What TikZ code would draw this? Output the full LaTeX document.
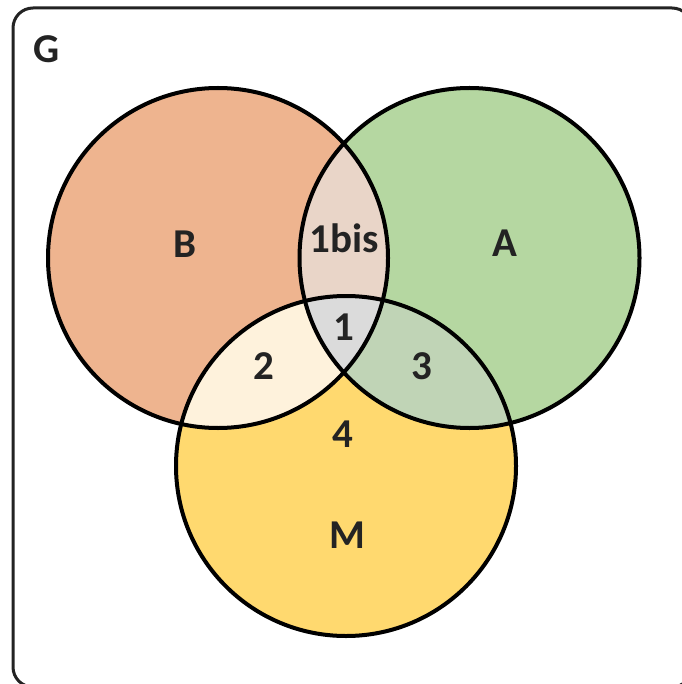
\documentclass[tikz,border=0pt]{standalone}
\usepackage{fontspec}
\setmainfont{Carlito}
\usepackage{xcolor}
\usepackage{tikz}
\usetikzlibrary{positioning}

\definecolor{setB}{HTML}{EEB48F}
\definecolor{setA}{HTML}{B5D7A1}
\definecolor{setM}{HTML}{FFD96F}
\definecolor{zoneBA}{HTML}{E9D5C8}
\definecolor{zoneBM}{HTML}{FEF2DC}
\definecolor{zoneAM}{HTML}{C0D4B6}
\definecolor{zoneAll}{HTML}{DBDBDB}
\definecolor{ink}{HTML}{232323}

\begin{document}
\begin{tikzpicture}[x=1pt, y=-1pt,
        every node/.style={font=\fontsize{41}{48}\selectfont\bfseries, text=ink, inner sep=0pt},
        setline/.style={draw=black, line width=4pt},
        frame/.style={draw=ink, line width=3pt, rounded corners=20pt}]

    \useasboundingbox (0,0) rectangle (681,684);

    % the three sets
    \def\cB{(218,258) circle (170)}
    \def\cA{(469.5,258) circle (170)}
    \def\cM{(346,466) circle (170)}

    \draw[frame] (13,8) rectangle (692,687);

    \fill[setB] \cB;
    \fill[setA] \cA;
    \fill[setM] \cM;

    % intersections
    \begin{scope}
        \clip \cB;
        \fill[zoneBA] \cA;
        \fill[zoneBM] \cM;
    \end{scope}
    \begin{scope}
        \clip \cA;
        \fill[zoneAM] \cM;
    \end{scope}
    \begin{scope}
        \clip \cB;
        \clip \cA;
        \fill[zoneAll] \cM;
    \end{scope}

    \draw[setline] \cB;
    \draw[setline] \cA;
    \draw[setline] \cM;

    % labels
    \node (G) at (47,49) {G};
    \node (B) at (184.5,244) {B};
    \node (A) at (505,243) {A};
    \node (M) at (347,535) {M};
    \node (z1bis) at (344.5,238) {1bis};
    \node (z1) at (344,327) {1};
    \node (z2) at (264,366) {2};
    \node (z3) at (422,366) {3};
    \node (z4) at (343,434) {4};
\end{tikzpicture}
\end{document}
